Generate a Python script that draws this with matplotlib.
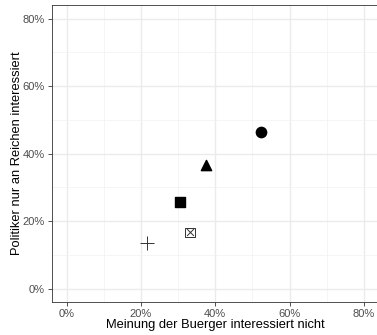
import numpy as np
import matplotlib.pyplot as plt
import matplotlib.ticker as tck

plt.rcParams['font.family'] = ['Liberation Sans', 'DejaVu Sans']

# Werte (in Prozent)
kein_interesse = [52.3, 37.5, 30.5, 33.2, 21.6]
nur_reiche = [46.4, 36.5, 25.6, 16.6, 13.4]
marker = ['o', '^', 's', 'boxx', '+']

fig = plt.figure(figsize=(3.77, 3.35), dpi=100)
ax = fig.add_axes([0.137, 0.0985, 0.868, 0.8865])

ax.set_xlim(-4, 84)
ax.set_ylim(-4, 84)
ax.xaxis.set_major_locator(tck.MultipleLocator(20))
ax.yaxis.set_major_locator(tck.MultipleLocator(20))
ax.xaxis.set_minor_locator(tck.FixedLocator([10, 30, 50, 70]))
ax.yaxis.set_minor_locator(tck.FixedLocator([10, 30, 50, 70]))
ax.xaxis.set_major_formatter(tck.FuncFormatter(lambda v, p: f"{v:.0f}%"))
ax.yaxis.set_major_formatter(tck.FuncFormatter(lambda v, p: f"{v:.0f}%"))

ax.grid(which='major', color='#ebebeb', lw=1.0)
ax.grid(which='minor', color='#f2f2f2', lw=0.5)
ax.set_axisbelow(True)
ax.tick_params(which='minor', length=0)
ax.tick_params(which='major', length=3, width=0.6, color='#333333',
               labelsize=8, labelcolor='#4d4d4d', pad=2)
for s in ax.spines.values():
    s.set_color('#333333')
    s.set_linewidth(0.6)

for x, y, m in zip(kein_interesse, nur_reiche, marker):
    if m == 'boxx':
        ax.scatter(x, y, marker='s', s=45, facecolors='none', edgecolors='#333333', linewidths=0.7, zorder=3)
        ax.scatter(x, y, marker='x', s=25, color='#333333', linewidths=0.7, zorder=3)
    elif m == '+':
        ax.scatter(x, y, marker='+', s=110, color='#333333', linewidths=0.7, zorder=3)
    else:
        ax.scatter(x, y, marker=m, s=55, color='black', zorder=3)

ax.set_xlabel("Meinung der Buerger interessiert nicht", fontsize=9.3)
ax.set_ylabel("Politiker nur an Reichen interessiert", fontsize=9.3)
ax.xaxis.set_label_coords(0.5, -0.058)
ax.yaxis.set_label_coords(-0.087, 0.5)

fig.savefig("out.png", dpi=100)
